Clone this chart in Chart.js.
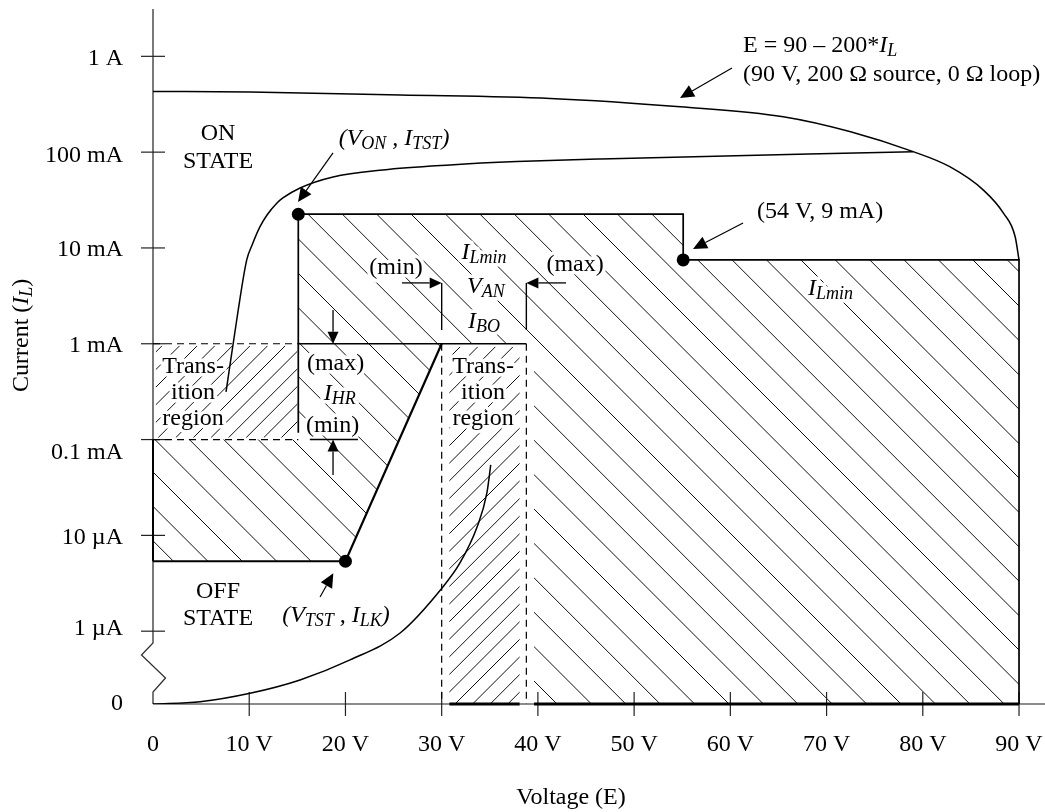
<!DOCTYPE html>
<html>
<head>
<meta charset="utf-8">
<title>Current vs Voltage</title>
<script src="https://cdn.jsdelivr.net/npm/chart.js@4.4.1/dist/chart.umd.min.js"></script>
<style>
html,body{margin:0;padding:0;background:#fff;}
canvas{display:block;}
</style>
</head>
<body>
<canvas id="chart" width="1045" height="812"></canvas>
<script>
// ---------------- axes ----------------
const xTickValues = [0, 10, 20, 30, 40, 50, 60, 70, 80, 90];
const xTickLabels = ['0', '10 V', '20 V', '30 V', '40 V', '50 V', '60 V', '70 V', '80 V', '90 V'];
// y values are log10(current / 1 A); the "0 A" level sits below the axis break
const yTickValues = [-6.76, -6, -5, -4, -3, -2, -1, 0];
const yTickLabels = ['0', '1 µA', '10 µA', '0.1 mA', '1 mA', '10 mA', '100 mA', '1 A'];
// small vertical placement nudges of the y labels (in decades), as in the original drawing
const yLabelShift = [0.02, 0.049, 0, -0.118, 0, 0, -0.019, 0];

// ---------------- curves (voltage, log10 current) ----------------
// source load line E = 90 - 200*IL
const loadLineV    = [0, 10.1, 25.7, 41.3, 54.8, 65.5, 72.5, 79.0, 82.8, 86.3, 88.4, 89.6, 90];
const loadLineLogI = [-0.367, -0.372, -0.403, -0.439, -0.526, -0.63, -0.787, -0.995, -1.152, -1.396, -1.639, -1.883, -2.125];
// ON-state characteristic
const onStateV    = [7.59, 8.70, 9.74, 10.3, 11.12, 11.85, 12.86, 13.5, 15.28, 18.71, 23.9, 30.87, 37.8, 46.5, 79.0];
const onStateLogI = [-3.503, -2.752, -2.125, -1.969, -1.778, -1.656, -1.533, -1.478, -1.374, -1.259, -1.186, -1.134, -1.099, -1.071, -0.995];
// OFF-state leakage
const offStateV    = [0, 4.89, 10.08, 15.28, 20.48, 25.68, 30.04, 31.9, 33.68, 34.7, 35.1];
const offStateLogI = [-6.76, -6.736, -6.648, -6.509, -6.30, -6.019, -5.549, -5.288, -4.913, -4.557, -4.265];
// marked test points: (V_ON, I_TST), (V_TST, I_LK), (54 V, 9 mA)
const testPointV    = [15.1, 20, 55.1];
const testPointLogI = [-1.648, -5.27, -2.125];

// ---------------- key levels of the test regions ----------------
const V_ON = 15.1, LOG_I_TST = -1.648;
const V_TST = 20, LOG_I_LK = -5.27;
const V_AN_MIN = 30, V_AN_MAX = 38.8, V_REGION = 39.6;
const V_STEP = 55.1, LOG_I_LMIN = -2.125, V_SOURCE = 90;
const LOG_I_BO = -3, LOG_I_HR_MAX = -3, LOG_I_HR_MIN = -4;
const LOG_ZERO = -6.76;

// I_Lmin region (hatched "\\\")
const mainRegionV    = [V_ON, V_STEP, V_STEP, V_SOURCE, V_SOURCE, V_REGION, V_REGION, V_AN_MIN, V_TST, 0, 0, V_ON];
const mainRegionLogI = [LOG_I_TST, LOG_I_TST, LOG_I_LMIN, LOG_I_LMIN, LOG_ZERO, LOG_ZERO, LOG_I_BO, LOG_I_BO, LOG_I_LK, LOG_I_LK, LOG_I_HR_MIN, LOG_I_HR_MIN];
// transition regions (hatched "///")
const leftTransitionV = [0.3, 15.0],  leftTransitionLogI = [-3.02, -3.98];
const rightTransitionV = [30.8, 38.1], rightTransitionLogI = [-3.03, LOG_ZERO];

// ---------------- styling ----------------
const FONT = '"Liberation Serif", "Times New Roman", serif';
const MAIN = 24, SUB = 18, SUB_DY = 4;

function fontFor(s) {
  const it = (s === 'i' || s === 's') ? 'italic ' : '';
  return it + (s === 's' ? SUB : MAIN) + 'px ' + FONT;
}
function drawRich(ctx, runs, x, y, align, halo) {
  let w = 0;
  runs.forEach(([t, s]) => { ctx.font = fontFor(s); w += ctx.measureText(t).width; });
  const sx = align === 'center' ? x - w / 2 : (align === 'right' ? x - w : x);
  ctx.textAlign = 'left';
  ctx.textBaseline = 'alphabetic';
  const pass = (stroke) => {
    let px = sx;
    runs.forEach(([t, s]) => {
      ctx.font = fontFor(s);
      const dy = s === 's' ? SUB_DY : 0;
      if (stroke) ctx.strokeText(t, px, y + dy); else ctx.fillText(t, px, y + dy);
      px += ctx.measureText(t).width;
    });
  };
  if (halo) {
    ctx.save();
    ctx.strokeStyle = '#fff'; ctx.lineWidth = 7; ctx.lineJoin = 'round';
    pass(true);
    ctx.restore();
  }
  ctx.fillStyle = '#000';
  pass(false);
}
function hatch(ctx, pts, dir, spacing, phase, lw) {
  ctx.save();
  ctx.beginPath();
  pts.forEach(([x, y], i) => (i ? ctx.lineTo(x, y) : ctx.moveTo(x, y)));
  ctx.closePath();
  ctx.clip();
  const xs = pts.map(p => p[0]), ys = pts.map(p => p[1]);
  const x0 = Math.min(...xs), x1 = Math.max(...xs), y0 = Math.min(...ys), y1 = Math.max(...ys);
  ctx.beginPath();
  if (dir === 'back') {
    const cMin = x0 - y1, cMax = x1 - y0;
    for (let c = Math.ceil((cMin - phase) / spacing) * spacing + phase; c <= cMax; c += spacing) {
      ctx.moveTo(y0 + c, y0); ctx.lineTo(y1 + c, y1);
    }
  } else {
    const cMin = x0 + y0, cMax = x1 + y1;
    for (let c = Math.ceil((cMin - phase) / spacing) * spacing + phase; c <= cMax; c += spacing) {
      ctx.moveTo(c - y0, y0); ctx.lineTo(c - y1, y1);
    }
  }
  ctx.lineWidth = lw; ctx.strokeStyle = '#111';
  ctx.stroke();
  ctx.restore();
}
function line(ctx, pts, lw, dash, color) {
  ctx.beginPath();
  pts.forEach(([x, y], i) => (i ? ctx.lineTo(x, y) : ctx.moveTo(x, y)));
  ctx.lineWidth = lw; ctx.strokeStyle = color || '#000';
  ctx.setLineDash(dash || []);
  ctx.stroke();
  ctx.setLineDash([]);
}
function arrow(ctx, x1, y1, x2, y2, len, half, lw) {
  const a = Math.atan2(y2 - y1, x2 - x1);
  const bx = x2 - len * Math.cos(a), by = y2 - len * Math.sin(a);
  ctx.beginPath(); ctx.moveTo(x1, y1); ctx.lineTo(bx, by);
  ctx.lineWidth = lw; ctx.strokeStyle = '#000'; ctx.stroke();
  ctx.beginPath(); ctx.moveTo(x2, y2);
  ctx.lineTo(bx + half * Math.sin(a), by - half * Math.cos(a));
  ctx.lineTo(bx - half * Math.sin(a), by + half * Math.cos(a));
  ctx.closePath(); ctx.fillStyle = '#000'; ctx.fill();
}

// text annotations, anchored in data units (volts, log10 A) at the text baseline
const textNotes = [
  {v: 6.76, d: -0.873, runs: [['ON', '']]},
  {v: 6.76, d: -1.165, runs: [['STATE', '']]},
  {v: 6.76, d: -5.653, runs: [['OFF', '']]},
  {v: 6.76, d: -5.935, runs: [['STATE', '']]},
  {v: 4.16, d: -3.305, runs: [['Trans-', '']], halo: true},
  {v: 4.16, d: -3.576, runs: [['ition', '']], halo: true},
  {v: 4.16, d: -3.848, runs: [['region', '']], halo: true},
  {v: 34.3, d: -3.305, runs: [['Trans-', '']], halo: true},
  {v: 34.3, d: -3.576, runs: [['ition', '']], halo: true},
  {v: 34.3, d: -3.848, runs: [['region', '']], halo: true},
  {v: 18.97, d: -3.273, runs: [['(max)', '']], halo: true},
  {v: 19.4, d: -3.587, runs: [['I', 'i'], ['HR', 's']], halo: true},
  {v: 18.66, d: -3.92, runs: [['(min)', '']], halo: true},
  {v: 34.4, d: -2.115, runs: [['I', 'i'], ['Lmin', 's']], halo: true},
  {v: 34.6, d: -2.47, runs: [['V', 'i'], ['AN', 's']], halo: true},
  {v: 34.4, d: -2.835, runs: [['I', 'i'], ['BO', 's']], halo: true},
  {v: 25.25, d: -2.271, runs: [['(min)', '']], halo: true},
  {v: 43.86, d: -2.24, runs: [['(max)', '']], halo: true},
  {v: 70.42, d: -2.49, runs: [['I', 'i'], ['Lmin', 's']], halo: true},
  {v: 69.32, d: -1.687, runs: [['(54 V, 9 mA)', '']]},
  {v: 61.32, d: 0.049, align: 'left', runs: [['E = 90 – 200*', ''], ['I', 'i'], ['L', 's']]},
  {v: 61.32, d: -0.257, align: 'left', runs: [['(90 V, 200 Ω source, 0 Ω loop)', '']]},
  {v: 25.05, d: -0.925, runs: [['(V', 'i'], ['ON', 's'], [' , I', 'i'], ['TST', 's'], [')', 'i']]},
  {v: 19.02, d: -5.904, runs: [['(V', 'i'], ['TST', 's'], [' , I', 'i'], ['LK', 's'], [')', 'i']]}
];
// pointer arrows: from (v1,d1) to tip (v2,d2)
const pointerArrows = [
  {v1: 60.17, d1: -0.121, v2: 54.77, d2: -0.434},
  {v1: 61.32, d1: -1.739, v2: 56.12, d2: -2.01},
  {v1: 18.71, d1: -1.008, v2: 15.07, d2: -1.52},
  {v1: 17.36, d1: -5.643, v2: 18.74, d2: -5.396}
];
const limitArrows = [
  {v1: 25.88, d1: -2.365, v2: V_AN_MIN, d2: -2.365},
  {v1: 42.92, d1: -2.365, v2: V_AN_MAX, d2: -2.365},
  {v1: 18.71, d1: -2.647, v2: 18.71, d2: LOG_I_HR_MAX},
  {v1: 18.71, d1: -4.37, v2: 18.71, d2: LOG_I_HR_MIN}
];

const diagram = {
  id: 'diagram',
  beforeDatasetsDraw(chart) {
    const ctx = chart.ctx, sx = chart.scales.x, sy = chart.scales.y;
    const P = (v, d) => [sx.getPixelForValue(v), sy.getPixelForValue(d)];
    const rectPts = (vs, ds) => [P(vs[0], ds[0]), P(vs[1], ds[0]), P(vs[1], ds[1]), P(vs[0], ds[1])];
    ctx.save();
    // hatching
    hatch(ctx, mainRegionV.map((v, i) => P(v, mainRegionLogI[i])), 'back', 34.4, 25, 1);
    hatch(ctx, rectPts(leftTransitionV, leftTransitionLogI), 'fwd', 17.6, 15, 1);
    hatch(ctx, rectPts(rightTransitionV, rightTransitionLogI), 'fwd', 17.6, 15, 1);

    // texts (white halo interrupts hatching)
    textNotes.forEach(n => {
      const [x, y] = P(n.v, n.d);
      drawRich(ctx, n.runs, x, y, n.align || 'center', n.halo);
    });

    // axes
    const left = chart.chartArea.left, right = chart.chartArea.right, top = chart.chartArea.top;
    const y0 = sy.getPixelForValue(LOG_ZERO);
    line(ctx, [[left, y0], [right, y0]], 1.4, null, '#666');
    line(ctx, [[left, top], P(0, -6.123), [left - 11.5, sy.getPixelForValue(-6.249)],
               [left + 12.5, sy.getPixelForValue(-6.489)], P(0, -6.635), [left, y0]], 1.3, null, '#333');
    xTickValues.slice(1).forEach(v => {
      const x = sx.getPixelForValue(v);
      line(ctx, [[x, y0 - 12], [x, y0 + 12]], 1.2, null, '#222');
    });
    yTickValues.slice(1).forEach(d => {
      const y = sy.getPixelForValue(d);
      line(ctx, [[left - 12, y], [left + 12, y]], 1.2, null, '#222');
    });

    // region boundaries
    line(ctx, [P(V_ON, -3.93), P(V_ON, LOG_I_TST), P(V_STEP, LOG_I_TST), P(V_STEP, LOG_I_LMIN),
               P(V_SOURCE, LOG_I_LMIN), P(V_SOURCE, LOG_ZERO)], 1.7);
    line(ctx, [P(V_ON, LOG_I_BO), P(V_AN_MAX, LOG_I_BO)], 1.6);
    line(ctx, [P(V_AN_MIN, LOG_I_BO), P(V_TST, LOG_I_LK), P(0, LOG_I_LK)], 2.2);
    line(ctx, [P(0, LOG_I_LK), P(0, LOG_I_HR_MIN)], 2);
    line(ctx, [P(V_REGION, LOG_ZERO), P(V_SOURCE, LOG_ZERO)], 3);
    line(ctx, [P(rightTransitionV[0], LOG_ZERO), P(rightTransitionV[1], LOG_ZERO)], 3);
    line(ctx, [P(0, LOG_I_HR_MAX), P(V_ON, LOG_I_HR_MAX)], 1.2, [7, 5]);
    line(ctx, [P(0, LOG_I_HR_MIN), P(V_ON, LOG_I_HR_MIN)], 1.2, [7, 5]);
    line(ctx, [P(V_AN_MIN, LOG_I_BO), P(V_AN_MIN, LOG_ZERO)], 1.2, [7, 5]);
    line(ctx, [P(V_AN_MAX, LOG_I_BO), P(V_AN_MAX, LOG_ZERO)], 1.2, [7, 5]);
    // limit markers
    line(ctx, [P(16.3, LOG_I_HR_MIN), P(21.3, LOG_I_HR_MIN)], 1.4);
    line(ctx, [P(V_AN_MIN, -2.365), P(V_AN_MIN, -2.856)], 1.4);
    line(ctx, [P(V_AN_MAX, -2.365), P(V_AN_MAX, -2.856)], 1.4);
    ctx.restore();
  },
  afterDatasetsDraw(chart) {
    const ctx = chart.ctx, sx = chart.scales.x, sy = chart.scales.y;
    const P = (v, d) => [sx.getPixelForValue(v), sy.getPixelForValue(d)];
    ctx.save();
    pointerArrows.forEach(a => {
      const [x1, y1] = P(a.v1, a.d1), [x2, y2] = P(a.v2, a.d2);
      arrow(ctx, x1, y1, x2, y2, 14, 6.5, 1.2);
    });
    limitArrows.forEach(a => {
      const [x1, y1] = P(a.v1, a.d1), [x2, y2] = P(a.v2, a.d2);
      arrow(ctx, x1, y1, x2, y2, 12, 5.5, 1.3);
    });
    // axis titles
    drawRich(ctx, [['Voltage (E)', '']], 571, 804, 'center', false);
    ctx.translate(28, 392);
    ctx.rotate(-Math.PI / 2);
    drawRich(ctx, [['Current (', ''], ['I', 'i'], ['L', 's'], [')', '']], 0, 0, 'left', false);
    ctx.restore();
  }
};

const pts = (xs, ys) => xs.map((x, i) => ({x: x, y: ys[i]}));
const curve = (data) => ({
  data: data, showLine: true, borderColor: '#000', borderWidth: 1.5,
  pointRadius: 0, fill: false, cubicInterpolationMode: 'monotone'
});
const noPad = s => { s.paddingTop = 0; s.paddingBottom = 0; s.paddingLeft = 0; s.paddingRight = 0; };

new Chart(document.getElementById('chart'), {
  type: 'scatter',
  data: {
    datasets: [
      curve(pts(loadLineV, loadLineLogI)),
      curve(pts(onStateV, onStateLogI)),
      curve(pts(offStateV, offStateLogI)),
      {data: pts(testPointV, testPointLogI), showLine: false, pointRadius: 6.5,
       pointBackgroundColor: '#000', pointBorderColor: '#000', pointBorderWidth: 0}
    ]
  },
  options: {
    responsive: false, animation: false, devicePixelRatio: 1, events: [],
    layout: {padding: {top: 9, left: 0, right: 0, bottom: 0}, autoPadding: false},
    plugins: {legend: {display: false}, tooltip: {enabled: false}},
    scales: {
      x: {
        type: 'linear', min: 0, max: 92.7,
        afterBuildTicks: s => { s.ticks = xTickValues.map(v => ({value: v})); },
        afterFit: s => { s.height = 108; noPad(s); },
        grid: {display: false, drawTicks: false}, border: {display: false},
        ticks: {callback: (v, i) => xTickLabels[i], autoSkip: false, maxRotation: 0, minRotation: 0,
                padding: 26, color: '#000', font: {family: FONT, size: MAIN}}
      },
      y: {
        type: 'linear', min: LOG_ZERO, max: 0.494,
        afterBuildTicks: s => { s.ticks = yTickValues.map((v, i) => ({value: v + yLabelShift[i]})); },
        afterFit: s => { s.width = 153; noPad(s); },
        grid: {display: false, drawTicks: false}, border: {display: false},
        ticks: {callback: (v, i) => yTickLabels[i], autoSkip: false, padding: 30, labelOffset: 2,
                color: '#000', font: {family: FONT, size: MAIN}}
      }
    }
  },
  plugins: [diagram]
});
</script>
</body>
</html>
